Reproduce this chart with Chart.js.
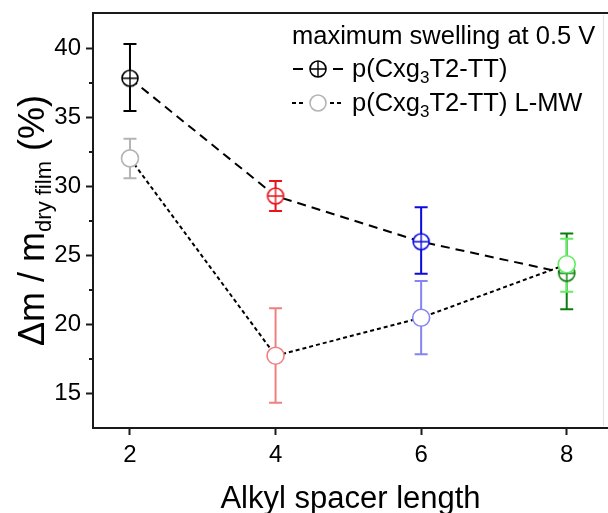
<!DOCTYPE html>
<html>
<head>
<meta charset="utf-8">
<script src="https://cdn.jsdelivr.net/npm/chart.js@4/dist/chart.umd.min.js"></script>
<style>
html,body{margin:0;padding:0;background:#fff;}
#wrap{width:608px;height:513px;position:relative;}
</style>
</head>
<body>
<div id="wrap"><canvas id="c" width="608" height="513"></canvas></div>
<script>
// ---- data ----
const xValues = [2, 4, 6, 8];
const xTicks = [2, 4, 6, 8];
const yTicks = [15, 20, 25, 30, 35, 40];
const yMinorTicks = [17.5, 22.5, 27.5, 32.5, 37.5];

const s1Label = 'p(Cxg3T2-TT)';
const s1Values = [37.83, 29.30, 25.99, 23.70];
const s1ErrLow = [35.46, 28.21, 23.67, 21.09];
const s1ErrHigh = [40.31, 30.38, 28.48, 26.59];
const s1Colors = ['#000000', '#e8141c', '#0a0ae0', '#0b7d0b'];

const s2Label = 'p(Cxg3T2-TT) L-MW';
const s2Values = [32.03, 17.73, 20.48, 24.35];
const s2ErrLow = [30.58, 14.32, 17.83, 22.36];
const s2ErrHigh = [33.45, 21.16, 23.14, 26.20];
const s2Colors = ['#b4b4b4', '#f08080', '#8484f2', '#62ee62'];

const legendTitle = 'maximum swelling at 0.5 V';
const xTitle = 'Alkyl spacer length';

const FONT = '"Liberation Sans", Arial, sans-serif';

function crossCircle(color, r) {
  const s = Math.ceil(r * 2 + 4);
  const cv = document.createElement('canvas');
  cv.width = s; cv.height = s;
  const g = cv.getContext('2d');
  const c = s / 2;
  g.beginPath();
  g.arc(c, c, r, 0, Math.PI * 2);
  g.fillStyle = '#fff';
  g.fill();
  g.lineWidth = 1.6;
  g.strokeStyle = color;
  g.stroke();
  g.beginPath();
  g.moveTo(c - r, c); g.lineTo(c + r, c);
  g.moveTo(c, c - r); g.lineTo(c, c + r);
  g.lineWidth = 1.4;
  g.stroke();
  return cv;
}
const s1Styles = s1Colors.map(c => crossCircle(c, 8));

function drawParts(ctx, parts, x, y) {
  let cx = x;
  for (const p of parts) {
    ctx.font = p.size + 'px ' + FONT;
    ctx.fillText(p.t, cx, y + (p.dy || 0));
    cx += ctx.measureText(p.t).width;
  }
  return cx;
}
function partsWidth(ctx, parts) {
  let w = 0;
  for (const p of parts) { ctx.font = p.size + 'px ' + FONT; w += ctx.measureText(p.t).width; }
  return w;
}

const deco = {
  id: 'deco',
  beforeDatasetsDraw(chart) {
    const ctx = chart.ctx, xs = chart.scales.x, ys = chart.scales.y;
    const sets = [[s1ErrLow, s1ErrHigh, s1Colors], [s2ErrLow, s2ErrHigh, s2Colors]];
    ctx.save();
    ctx.lineWidth = 2;
    for (const [lo, hi, cols] of sets) {
      for (let i = 0; i < xValues.length; i++) {
        const x = xs.getPixelForValue(xValues[i]);
        const y1 = ys.getPixelForValue(lo[i]);
        const y2 = ys.getPixelForValue(hi[i]);
        ctx.strokeStyle = cols[i];
        ctx.beginPath();
        ctx.moveTo(x, y1); ctx.lineTo(x, y2);
        ctx.moveTo(x - 6.5, y1); ctx.lineTo(x + 6.5, y1);
        ctx.moveTo(x - 6.5, y2); ctx.lineTo(x + 6.5, y2);
        ctx.stroke();
      }
    }
    ctx.restore();
  },
  afterDraw(chart) {
    const ctx = chart.ctx, a = chart.chartArea, ys = chart.scales.y;
    ctx.save();
    // frame top
    ctx.strokeStyle = '#1a1a1a';
    ctx.lineWidth = 2;
    ctx.beginPath();
    ctx.moveTo(a.left - 1, a.top); ctx.lineTo(608, a.top);
    ctx.stroke();
    // faint right line
    ctx.strokeStyle = '#e2e2e2';
    ctx.lineWidth = 1;
    ctx.beginPath();
    ctx.moveTo(603.5, a.top + 2); ctx.lineTo(603.5, a.bottom - 2);
    ctx.stroke();
    // minor ticks
    ctx.strokeStyle = '#1a1a1a';
    ctx.lineWidth = 2;
    for (const v of yMinorTicks) {
      const y = Math.round(ys.getPixelForValue(v));
      ctx.beginPath();
      ctx.moveTo(a.left - 4, y); ctx.lineTo(a.left, y);
      ctx.stroke();
    }
    ctx.fillStyle = '#000';
    ctx.textBaseline = 'alphabetic';
    // x title
    ctx.font = '31px ' + FONT;
    ctx.textAlign = 'center';
    ctx.fillText(xTitle, (a.left + a.right) / 2, 508);
    ctx.textAlign = 'left';
    // y title
    const yParts = [
      {t: '\u0394m / m', size: 36},
      {t: 'dry film', size: 22, dy: 7},
      {t: ' (%)', size: 36}
    ];
    ctx.save();
    ctx.translate(44, (a.top + a.bottom) / 2);
    ctx.rotate(-Math.PI / 2);
    const w = partsWidth(ctx, yParts);
    drawParts(ctx, yParts, -w / 2, 0);
    ctx.restore();
    // legend
    ctx.font = '25.5px ' + FONT;
    ctx.fillText(legendTitle, 292, 44);
    const r1y = 77, r2y = 111, symY1 = r1y - 8, symY2 = r2y - 8;
    // row 1
    ctx.strokeStyle = s1Colors[0];
    ctx.lineWidth = 2;
    ctx.setLineDash([]);
    ctx.beginPath();
    ctx.moveTo(293, symY1); ctx.lineTo(303, symY1);
    ctx.moveTo(333, symY1); ctx.lineTo(343, symY1);
    ctx.stroke();
    ctx.drawImage(s1Styles[0], 318 - s1Styles[0].width / 2, symY1 - s1Styles[0].height / 2);
    drawParts(ctx, [{t: 'p(Cxg', size: 25.5}, {t: '3', size: 17, dy: 6}, {t: 'T2-TT)', size: 25.5}], 352, r1y);
    // row 2
    ctx.strokeStyle = '#000';
    ctx.setLineDash([4, 3]);
    ctx.beginPath();
    ctx.moveTo(292, symY2); ctx.lineTo(306, symY2);
    ctx.moveTo(330, symY2); ctx.lineTo(344, symY2);
    ctx.stroke();
    ctx.setLineDash([]);
    ctx.beginPath();
    ctx.arc(318, symY2, 8, 0, Math.PI * 2);
    ctx.fillStyle = '#fff';
    ctx.fill();
    ctx.strokeStyle = s2Colors[0];
    ctx.lineWidth = 1.6;
    ctx.stroke();
    ctx.fillStyle = '#000';
    drawParts(ctx, [{t: 'p(Cxg', size: 25.5}, {t: '3', size: 17, dy: 6}, {t: 'T2-TT) L-MW', size: 25.5}], 352, r2y);
    ctx.restore();
  }
};

function zeroPad(s) { s.paddingTop = 0; s.paddingBottom = 0; s.paddingLeft = 0; s.paddingRight = 0; }

const chart = new Chart(document.getElementById('c'), {
  type: 'line',
  data: {
    datasets: [
      {
        label: s1Label,
        data: xValues.map((x, i) => ({x: x, y: s1Values[i]})),
        borderColor: '#000',
        borderWidth: 2,
        borderDash: [9, 6],
        fill: false,
        tension: 0,
        pointStyle: s1Styles,
        pointRadius: 8,
        pointBorderColor: s1Colors,
        pointBackgroundColor: '#fff',
        order: 1
      },
      {
        label: s2Label,
        data: xValues.map((x, i) => ({x: x, y: s2Values[i]})),
        borderColor: '#000',
        borderWidth: 2,
        borderDash: [4, 3],
        fill: false,
        tension: 0,
        pointStyle: 'circle',
        pointRadius: 8.5,
        pointBorderWidth: 1.6,
        pointBorderColor: s2Colors,
        pointBackgroundColor: '#fff',
        order: 0
      }
    ]
  },
  options: {
    responsive: false,
    animation: false,
    layout: {autoPadding: false, padding: {top: 13, right: 0, left: 0, bottom: 0}},
    plugins: {legend: {display: false}, tooltip: {enabled: false}},
    scales: {
      x: {
        type: 'linear',
        min: 1.492,
        max: 8.567,
        afterBuildTicks: s => { s.ticks = xTicks.map(v => ({value: v})); },
        afterFit: s => { s.height = 85; zeroPad(s); },
        grid: {display: true, drawOnChartArea: false, drawTicks: true, tickLength: 7, tickWidth: 2, tickColor: '#1a1a1a'},
        border: {display: true, color: '#1a1a1a', width: 2},
        ticks: {font: {family: FONT, size: 24}, color: '#000', padding: 6, maxRotation: 0, autoSkip: false}
      },
      y: {
        type: 'linear',
        min: 12.49,
        max: 42.56,
        afterBuildTicks: s => { s.ticks = yTicks.map(v => ({value: v})); },
        afterFit: s => { s.width = 93; zeroPad(s); },
        grid: {display: true, drawOnChartArea: false, drawTicks: true, tickLength: 7, tickWidth: 2, tickColor: '#1a1a1a'},
        border: {display: true, color: '#1a1a1a', width: 2},
        ticks: {font: {family: FONT, size: 24}, color: '#000', padding: 5, autoSkip: false}
      }
    }
  },
  plugins: [deco]
});
</script>
</body>
</html>
